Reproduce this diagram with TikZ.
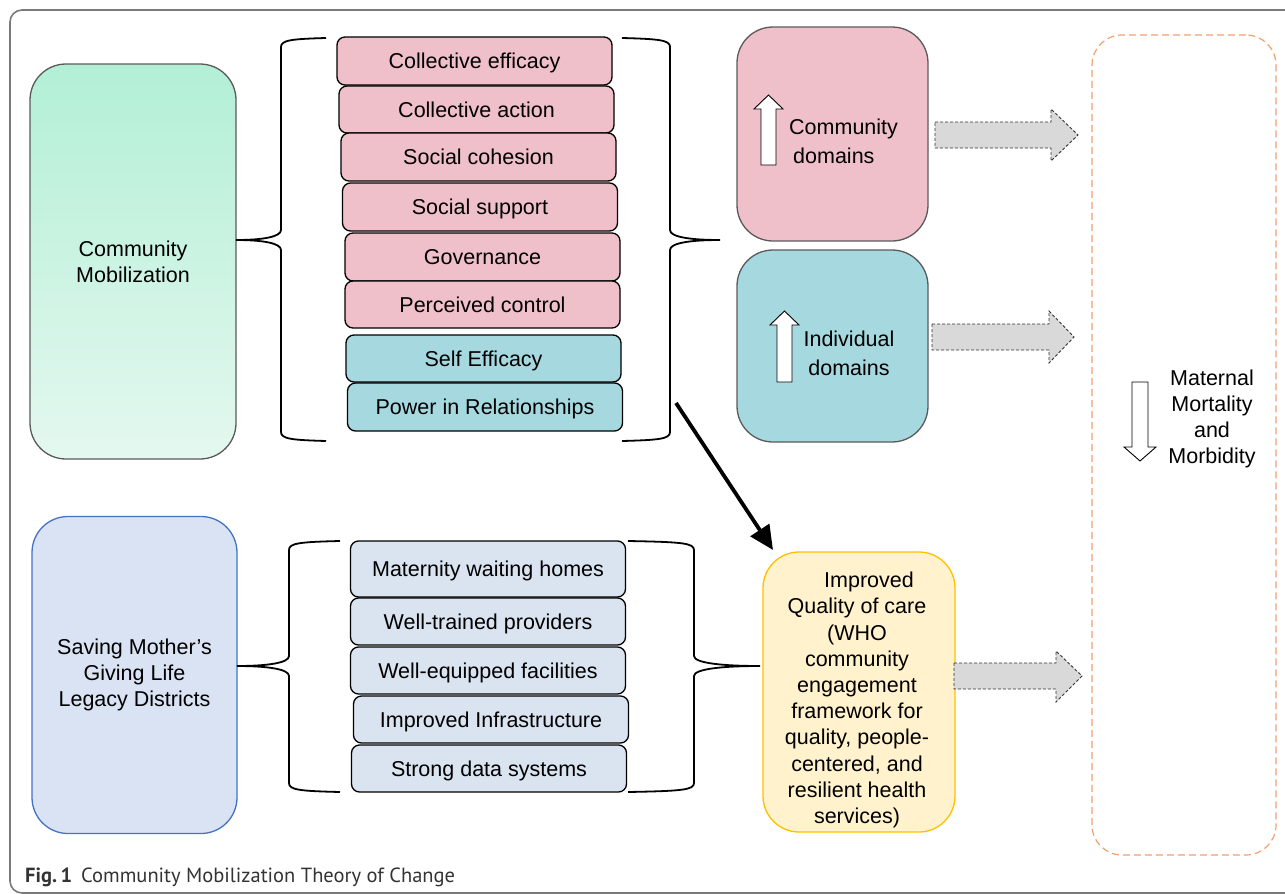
\documentclass[tikz,border=0pt]{standalone}
\usepackage{fontspec}
\setmainfont{Liberation Sans}
\newfontfamily\capfont{PT Sans}
\usetikzlibrary{arrows.meta,calc}
\definecolor{pinkc}{HTML}{EFBFCA}
\definecolor{tealc}{HTML}{A6D9DF}
\definecolor{bluec}{HTML}{DAE3F0}
\definecolor{savec}{HTML}{DAE3F3}
\definecolor{saveb}{HTML}{4472C4}
\definecolor{yelc}{HTML}{FFF2CC}
\definecolor{yelb}{HTML}{FFC000}
\definecolor{orab}{HTML}{F0A070}
\definecolor{greentop}{HTML}{B3EFD6}
\definecolor{greenbot}{HTML}{E4F8EF}
\definecolor{grayb}{HTML}{5A5A5A}
\definecolor{framec}{HTML}{7A7A7A}
\definecolor{arrfill}{HTML}{D9D9D9}
\definecolor{capc}{HTML}{333333}
\begin{document}
\begin{tikzpicture}[x=1pt,y=-1pt,
  font=\fontsize{21.5}{26}\selectfont,
  item/.style={draw=black, line width=1.3pt, rounded corners=8pt, minimum width=275pt, minimum height=47pt, inner sep=0pt, text height=17pt, text depth=1.6pt},
  pinkitem/.style={item, fill=pinkc},
  tealitem/.style={item, fill=tealc},
  blueitem/.style={item, fill=bluec},
  bigbox/.style={rounded corners=36pt, line width=1.3pt, inner sep=0pt, align=center},
  brace/.style={draw=black, line width=1.8pt},
  blockarrow/.style={draw=black, line width=0.9pt, fill=white},
  dasharrow/.style={draw=black!80, line width=0.9pt, dash pattern=on 3pt off 2pt, fill=arrfill},
  txt/.style={inner sep=0pt, align=center}
]
\useasboundingbox (0,0) rectangle (1285,894);
\begin{scope}
\clip (0,0) rectangle (1285,894);
\draw[framec, line width=1.6pt, rounded corners=12pt] (10,10) rectangle (1320,893);
\end{scope}

% left column
\node[bigbox, draw=grayb, top color=greentop, bottom color=greenbot, minimum width=206pt, minimum height=395pt] (cm) at (133,261.5) {Community\\Mobilization};
\node[bigbox, draw=saveb, fill=savec, minimum width=205pt, minimum height=317pt] (sm) at (134.5,675) {Saving Mother’s\\Giving Life\\Legacy Districts};

% upper list
\node[pinkitem, minimum height=48pt] (i1) at (474.5,61) {Collective efficacy};
\node[pinkitem] (i2) at (476.5,109.5) {Collective action};
\node[pinkitem, minimum height=48pt] (i3) at (478.5,157) {Social cohesion};
\node[pinkitem, minimum height=48pt] (i4) at (480,207) {Social support};
\node[pinkitem, minimum height=48pt] (i5) at (482.5,257) {Governance};
\node[pinkitem] (i6) at (482.5,304.5) {Perceived control};
\node[tealitem] (i7) at (483.5,358.5) {Self Efficacy};
\node[tealitem, minimum height=48pt] (i8) at (485,407) {Power in Relationships};

% lower list
\node[blueitem, minimum height=56pt] (b1) at (488,569) {Maternity waiting homes};
\node[blueitem] (b2) at (488,621.5) {Well-trained providers};
\node[blueitem] (b3) at (488,670.5) {Well-equipped facilities};
\node[blueitem] (b4) at (491,719.5) {Improved Infrastructure};
\node[blueitem] (b5) at (489,768.5) {Strong data systems};

% braces upper
\draw[brace] (326,38) .. controls (292,39) and (281,40) .. (281,47) -- (281,230)
  .. controls (281,237) and (262,240) .. (236,240)
  .. controls (262,240) and (281,243) .. (281,250) -- (281,432)
  .. controls (281,439) and (292,440) .. (326,441);
\draw[brace] (622,38) .. controls (659,39) and (670,40) .. (670,47) -- (670,230)
  .. controls (670,237) and (690,240) .. (720,240)
  .. controls (690,240) and (670,243) .. (670,250) -- (670,432)
  .. controls (670,439) and (659,440) .. (622,441);
% braces lower
\draw[brace] (340,541) .. controls (300,542) and (289,543) .. (289,550) -- (289,656)
  .. controls (289,663) and (267,666) .. (237,666)
  .. controls (267,666) and (289,669) .. (289,676) -- (289,783)
  .. controls (289,790) and (300,791) .. (340,792);
\draw[brace] (628,541) .. controls (682,542) and (694,543) .. (694,550) -- (694,656)
  .. controls (694,663) and (722,666) .. (760,666)
  .. controls (722,666) and (694,669) .. (694,676) -- (694,783)
  .. controls (694,790) and (682,791) .. (628,792);

% domain boxes
\node[bigbox, draw=grayb, fill=pinkc, minimum width=191pt, minimum height=214pt] (cd) at (832.5,134) {};
\node[bigbox, draw=grayb, fill=tealc, minimum width=191pt, minimum height=192pt] (id) at (832.5,346) {};
\draw[blockarrow] (761,165) -- (761,109) -- (754,109) -- (768.5,95) -- (783,109) -- (776,109) -- (776,165) -- cycle;
\node[txt, align=left, anchor=west, font=\fontsize{21.5}{29}\selectfont] (cdt) at (789,141) {Community\\\hspace*{4pt}domains};
\draw[blockarrow] (777,382) -- (777,325) -- (770,325) -- (784.5,311) -- (799,325) -- (792,325) -- (792,382) -- cycle;
\node[txt, font=\fontsize{21.5}{29}\selectfont] (idt) at (849,353) {Individual\\domains};

% quality of care
\node[bigbox, draw=yelb, fill=yelc, minimum width=192pt, minimum height=280pt] (qoc) at (859,692) {};
\node[txt, font=\fontsize{21.5}{26.2}\selectfont] (qoct) at (857,700) {\hspace*{24pt}Improved\\Quality of care\\(WHO\\community\\engagement\\framework for\\quality, people-\\centered, and\\resilient health\\services)};

% maternal outcome
\node[draw=orab, line width=1.2pt, dash pattern=on 7pt off 4pt, rounded corners=30pt, minimum width=184pt, minimum height=820pt, inner sep=0pt] (mm) at (1184,445) {};
\draw[blockarrow] (1132,382) -- (1148,382) -- (1148,447) -- (1156,447) -- (1140,461) -- (1124,447) -- (1132,447) -- cycle;
\node[txt] (mmt) at (1212,419) {Maternal\\Mortality\\and\\Morbidity};

% dashed block arrows
\draw[dasharrow] (935,122) -- (1051,122) -- (1051,109) -- (1078,135) -- (1051,161) -- (1051,148) -- (935,148) -- cycle;
\draw[dasharrow] (932,324) -- (1049,324) -- (1049,311) -- (1074,337) -- (1049,363) -- (1049,350) -- (932,350) -- cycle;
\draw[dasharrow] (954,663) -- (1056,663) -- (1056,651) -- (1082,676) -- (1056,702) -- (1056,689) -- (954,689) -- cycle;

% black arrow
\coordinate (as) at (676,403);
\coordinate (ae) at (773,550);
\draw[line width=3.8pt, -{Triangle[length=24pt,width=22pt]}] (as) -- (ae);

% caption
\node[anchor=base west, inner sep=0pt, text=capc, font=\capfont\fontsize{20.5}{24}\selectfont] (cap) at (25,882) {\textbf{Fig.\,1}\hspace{9pt}Community Mobilization Theory of Change};
\end{tikzpicture}
\end{document}
